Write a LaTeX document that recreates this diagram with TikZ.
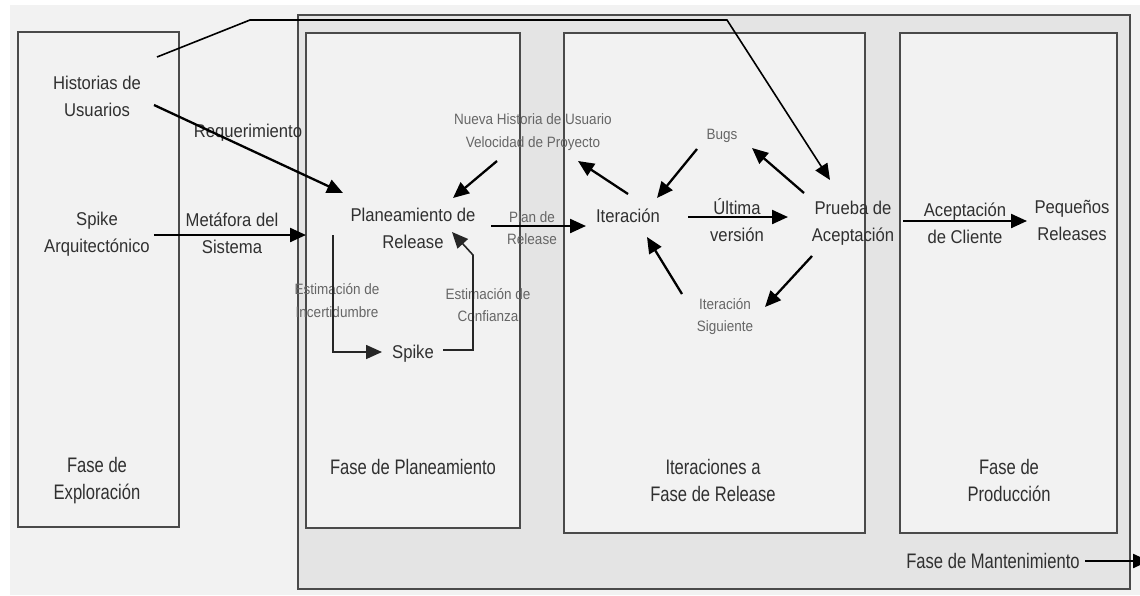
\documentclass[tikz,border=0pt]{standalone}
\usepackage{fontspec}
\setmainfont{Liberation Sans}
\newfontfamily\labelfont[FakeStretch=0.9]{Liberation Sans}
\newfontfamily\phasefont[FakeStretch=0.79]{Liberation Sans}
\usetikzlibrary{arrows.meta,shadows}
\definecolor{pagebg}{HTML}{F2F2F2}
\definecolor{bandbg}{HTML}{E4E4E4}
\definecolor{frame}{HTML}{4A4A4A}
\definecolor{ink}{HTML}{303030}
\definecolor{softink}{HTML}{666666}
\begin{document}
\begin{tikzpicture}[x=1pt,y=-1pt,
  phasebox/.style={draw=frame, line width=1.6pt, fill=pagebg, inner sep=0pt, outer sep=0pt,
    drop shadow={shadow xshift=1.3pt, shadow yshift=-1.3pt, fill=black, opacity=0.22}},
  lbl/.style={text=ink, align=center, inner sep=0pt, font=\labelfont\fontsize{18.5}{27}\selectfont},
  note/.style={text=softink, align=center, inner sep=0pt, font=\labelfont\fontsize{15}{22.5}\selectfont},
  phase/.style={text=ink, align=center, inner sep=0pt, font=\phasefont\fontsize{21}{27}\selectfont},
  tip/.style={-{Triangle[length=16pt,width=14pt]}},
  flow/.style={draw=black, line width=2.3pt, tip},
  guide/.style={draw=black!85, line width=1.6pt, tip}]

% page and canvas
\useasboundingbox (0,0) rectangle (1140,595);
\fill[white] (0,0) rectangle (1140,595);
\fill[pagebg] (10,5) rectangle (1140,595);

% phase frames
\node[phasebox, fill=bandbg, minimum width=832pt, minimum height=574pt] (boxMant) at (714,302) {};
\node[phasebox, minimum width=161pt, minimum height=495pt] (boxExp) at (98.5,279.5) {};
\node[phasebox, minimum width=214pt, minimum height=495pt] (boxPlan) at (413,280.5) {};
\node[phasebox, minimum width=301pt, minimum height=500pt] (boxIter) at (714.5,283) {};
\node[phasebox, minimum width=217pt, minimum height=500pt] (boxProd) at (1008.5,283) {};

% phase titles
\node[phase] (tExp) at (97,480.5) {Fase de\\Exploración};
\node[phase] (tPlan) at (413,467) {Fase de Planeamiento};
\node[phase] (tIter) at (713,480.5) {Iteraciones a\\Fase de Release};
\node[phase] (tProd) at (1009,480.5) {Fase de\\Producción};
\node[phase] (tMant) at (993,561) {Fase de Mantenimiento};

% activities
\node[lbl] (hist) at (97,96) {Historias de\\Usuarios};
\node[lbl] (spikeA) at (97,234) {Spike\\Arquitectónico};
\node[lbl] (plan) at (413,228.5) {Planeamiento de\\Release};
\node[lbl] (spike) at (413,354) {Spike};
\node[lbl] (iter) at (628,216) {Iteración};
\node[lbl] (prueba) at (853,223.5) {Prueba de\\Aceptación};
\node[lbl] (peq) at (1072,220) {Pequeños\\Releases};

% flow labels
\node[lbl] (req) at (248,133) {Requerimiento};
\node[lbl] (meta) at (232,233.5) {Metáfora del\\Sistema};
\node[lbl] (ultima) at (737,220.5) {Última\\versión};
\node[lbl] (acep) at (965,223.5) {Aceptación\\de Cliente};
\node[note] (nueva) at (533,132) {Nueva Historia de Usuario\\Velocidad de Proyecto};
\node[note] (planrel) at (532,228) {Plan de\\Release};
\node[note] (estI) at (337,300.5) {Estimación de\\Incertidumbre};
\node[note] (estC) at (488,305) {Estimación de\\Confianza};
\node[note] (bugs) at (722,136) {Bugs};
\node[note] (itsig) at (725,316.5) {Iteración\\Siguiente};

% connector ends
\coordinate (hist-out) at (154,105);
\coordinate (hist-top) at (157,57);
\coordinate (plan-in) at (343,193);
\coordinate (nueva-out) at (497,161);
\coordinate (plan-top) at (453,198);
\coordinate (plan-out) at (491,226);
\coordinate (iter-in) at (586,226);
\coordinate (plan-down) at (333,235);
\coordinate (spike-in) at (382,352);
\coordinate (spike-out) at (443,350);
\coordinate (plan-back) at (452,232);
\coordinate (bugs-out) at (697,149);
\coordinate (iter-top) at (657,198);
\coordinate (iter-up) at (628,194);
\coordinate (nueva-in) at (578,161);
\coordinate (prueba-up) at (804,193);
\coordinate (bugs-in) at (752,148);
\coordinate (iter-out) at (688,217);
\coordinate (prueba-in) at (788,217);
\coordinate (prueba-top) at (830,180);
\coordinate (prueba-down) at (812,256);
\coordinate (itsig-in) at (765,307);
\coordinate (itsig-out) at (682,294);
\coordinate (iter-low) at (647,237);
\coordinate (prueba-out) at (903,221);
\coordinate (peq-in) at (1027,221);
\coordinate (mant-out) at (1085,561);
\coordinate (mant-end) at (1149,561);

% connectors
\draw[flow] (hist-out) -- (plan-in);
\draw[flow] (spikeA.east |- 0,235) ++(4,0) -- (boxPlan.west |- 0,235);
\draw[flow, line width=1.6pt] (hist-top) -- (250,20) -- (727,20) -- (prueba-top);
\draw[flow] (nueva-out) -- (plan-top);
\draw[flow] (plan-out) -- (iter-in);
\draw[guide] (plan-down) |- (spike-in);
\draw[guide] (spike-out) -- (473,350) -- (473,255) -- (plan-back);
\draw[flow] (bugs-out) -- (iter-top);
\draw[flow] (iter-up) -- (nueva-in);
\draw[flow] (prueba-up) -- (bugs-in);
\draw[flow] (iter-out) -- (prueba-in);
\draw[flow] (prueba-down) -- (itsig-in);
\draw[flow] (itsig-out) -- (iter-low);
\draw[flow] (prueba-out) -- (peq-in);
\draw[flow] (mant-out) -- (mant-end);
\end{tikzpicture}
\end{document}
